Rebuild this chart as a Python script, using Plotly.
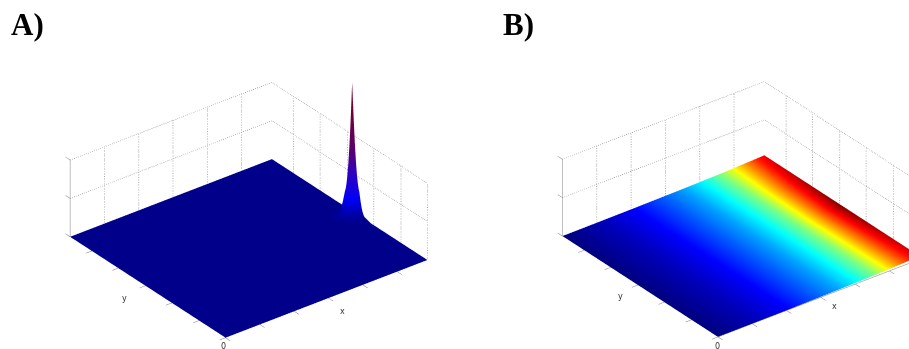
import plotly.graph_objects as go

# panel A: flat floor with one narrow spike near the x = 1 edge
a_x = [0.0, 0.88, 0.91, 0.93, 0.95, 0.97, 0.99, 1.0]
a_y = [0.0, 0.365, 0.405, 0.425, 0.445, 0.465, 0.485, 0.525, 1.0]
a_z = [
    [0, 0, 0, 0, 0, 0, 0, 0],
    [0, 0, 0, 0, 0, 0, 0, 0],
    [0, 0, 0.00, 0.01, 0.02, 0.04, 0.05, 0.03],
    [0, 0, 0.01, 0.05, 0.14, 0.45, 0.34, 0.08],
    [0, 0, 0.02, 0.10, 0.45, 1.76, 0.48, 0.10],
    [0, 0.01, 0.04, 0.10, 0.34, 0.45, 0.14, 0.05],
    [0, 0, 0.03, 0.04, 0.04, 0.04, 0.02, 0.01],
    [0, 0, 0, 0, 0, 0, 0, 0],
    [0, 0, 0, 0, 0, 0, 0, 0],
]

# panel B: slow ramp in x, colour
b_x = [0.0, 0.2, 0.35, 0.5, 0.6, 0.69, 0.78, 0.85, 0.92, 0.96, 1.0]
b_y = [0.0, 0.25, 0.5, 0.75, 1.0]
b_z_row = [0.0, 0.002, 0.004, 0.008, 0.011, 0.015, 0.02, 0.025, 0.032, 0.036, 0.04]
b_c = [
    [0.0, 0.06, 0.125, 0.22, 0.29, 0.375, 0.5, 0.64, 0.78, 0.85, 0.90],
    [0.0, 0.06, 0.125, 0.22, 0.29, 0.375, 0.5, 0.65, 0.80, 0.88, 0.95],
    [0.0, 0.06, 0.125, 0.22, 0.29, 0.375, 0.5, 0.66, 0.82, 0.91, 1.00],
    [0.0, 0.06, 0.125, 0.22, 0.29, 0.375, 0.5, 0.65, 0.80, 0.88, 0.95],
    [0.0, 0.06, 0.125, 0.22, 0.29, 0.375, 0.5, 0.625, 0.76, 0.84, 0.90],
]

x_ticks = [0.0, 0.17, 0.34, 0.51, 0.68, 0.85]
y_ticks = [0.0, 0.17, 0.345, 0.515, 0.69, 0.86]
z_ticks = [0.0, 0.5, 1.0]

jet = [
    [0.0, "rgb(0,0,128)"],
    [0.125, "rgb(0,0,255)"],
    [0.375, "rgb(0,255,255)"],
    [0.625, "rgb(255,255,0)"],
    [0.875, "rgb(255,0,0)"],
    [1.0, "rgb(128,0,0)"],
]
# the spike was shaded vertex to vertex, so it blends blue -> maroon directly
spike_scale = [
    [0.0, "rgb(0,0,138)"],
    [0.05, "rgb(0,0,170)"],
    [0.15, "rgb(0,0,245)"],
    [0.35, "rgb(50,0,190)"],
    [0.5, "rgb(90,0,110)"],
    [0.8, "rgb(115,0,50)"],
    [1.0, "rgb(128,0,40)"],
]
flat = dict(ambient=1, diffuse=0, specular=0, roughness=1, fresnel=0)

GRID = "rgb(140,140,140)"
TICK = "rgb(130,130,130)"

# view direction, matches the usual az -37.5 / el 30 look
EYE = (-0.6727, -0.8733, 0.636)
RIGHT = (0.8, -0.6, 0.0)
UP = (0.306, 0.408, 0.86)
PX_PER_UNIT = 174


def line(scene, xs, ys, zs, color, dash="solid", width=1):
    return go.Scatter3d(
        x=xs, y=ys, z=zs, mode="lines", scene=scene, showlegend=False,
        hoverinfo="skip", line=dict(color=color, dash=dash, width=width),
    )


def box_lines(scene):
    out = []
    # horizontal grid on the two back walls
    for z in z_ticks[1:]:
        out.append(line(scene, [0, 1, 1], [1, 1, 0], [z, z, z], GRID, "dot", 1.5))
    # vertical grid on the back walls
    for x in x_ticks[1:]:
        out.append(line(scene, [x, x], [1, 1], [0, 1], GRID, "dot", 1.5))
    for y in y_ticks:
        out.append(line(scene, [1, 1], [y, y], [0, 1], GRID, "dot", 1.5))
    # z axis and all the little ticks
    out.append(line(scene, [0, 0], [1, 1], [0, 1], TICK))
    for z in z_ticks:
        out.append(line(scene, [0, 0], [1, 1.03], [z, z], TICK))
    for x in x_ticks:
        out.append(line(scene, [x, x], [0, -0.03], [0, 0], TICK))
    for y in y_ticks:
        out.append(line(scene, [0, -0.03], [y, y], [0, 0], TICK))
    return out


fig = go.Figure()
fig.add_trace(go.Surface(
    x=a_x, y=a_y, z=a_z, surfacecolor=a_z, scene="scene",
    colorscale=spike_scale, cmin=0, cmax=1.76, showscale=False,
    lighting=flat, hoverinfo="skip",
))
fig.add_traces(box_lines("scene"))
fig.add_trace(go.Surface(
    x=b_x, y=b_y, z=[b_z_row] * len(b_y), surfacecolor=b_c, scene="scene2",
    colorscale=jet, cmin=0, cmax=1, showscale=False,
    lighting=flat, hoverinfo="skip",
))
fig.add_traces(box_lines("scene2"))
fig.add_trace(line("scene2", [0, 1], [0, 0], [0, 0], TICK))


def scene_layout(domain, right_px, down_px):
    # slide the picture inside its viewport by moving eye and centre together
    shift = [(-RIGHT[i] * right_px + UP[i] * down_px) / PX_PER_UNIT for i in range(3)]
    ax = dict(visible=False, showspikes=False)
    return dict(
        domain=dict(x=domain, y=[0, 1]),
        xaxis=dict(range=[-0.05, 1.05], **ax),
        yaxis=dict(range=[-0.05, 1.05], **ax),
        zaxis=dict(range=[-0.05, 1.8], **ax),
        aspectmode="manual",
        # orthographic zoom in plotly comes from the aspect ratio, not the eye distance
        aspectratio=dict(x=1.606, y=1.606, z=0.94),
        camera=dict(
            projection=dict(type="orthographic"),
            eye=dict(x=EYE[0] + shift[0], y=EYE[1] + shift[1], z=EYE[2] + shift[2]),
            center=dict(x=shift[0], y=shift[1], z=shift[2]),
            up=dict(x=0, y=0, z=1),
        ),
    )


labels = [
    ("<b>A)</b>", 9, 25, 31, "Liberation Serif", "black"),
    ("<b>B)</b>", 501, 25, 31, "Liberation Serif", "black"),
    ("y", 124, 298, 8, "DejaVu Sans", "rgb(50,50,50)"),
    ("x", 342, 311, 8, "DejaVu Sans", "rgb(50,50,50)"),
    ("0", 223, 346, 8, "DejaVu Sans", "rgb(50,50,50)"),
    ("y", 620, 296, 8, "DejaVu Sans", "rgb(50,50,50)"),
    ("x", 834, 306, 8, "DejaVu Sans", "rgb(50,50,50)"),
    ("0", 717, 346, 8, "DejaVu Sans", "rgb(50,50,50)"),
]
annotations = [
    dict(
        text=t, x=px / 909, y=1 - py / 349, xref="paper", yref="paper",
        xanchor="left" if size > 10 else "center", yanchor="middle",
        showarrow=False, font=dict(family=fam, size=size, color=col),
    )
    for t, px, py, size, fam, col in labels
]

fig.update_layout(
    width=909,
    height=349,
    autosize=False,
    margin=dict(l=0, r=0, t=0, b=0),
    paper_bgcolor="white",
    showlegend=False,
    scene=scene_layout([0, 0.54], 3.2, 6.7),
    scene2=scene_layout([0.54, 1], 41, 6.2),
    annotations=annotations,
)

fig.write_html(
    "out.html",
    config=dict(displayModeBar=False),
    post_script="document.body.style.margin='0';document.body.style.overflow='hidden';",
)
